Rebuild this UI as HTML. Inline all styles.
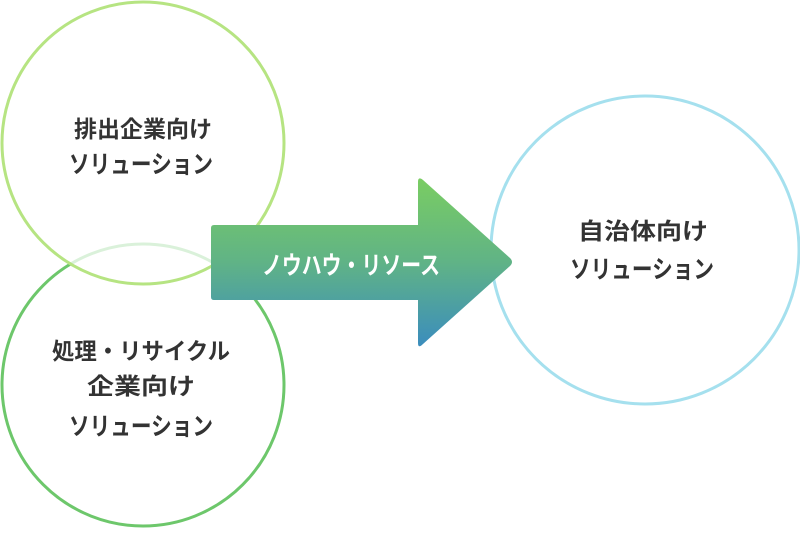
<!DOCTYPE html>
<html><head><meta charset="utf-8"><style>
body{margin:0;background:#fff;}
svg text{font-family:"Liberation Sans","Noto Sans CJK JP",sans-serif;font-weight:bold;font-size:23px;fill:#333;text-anchor:middle;}
svg text.k{font-size:25px;}
</style></head><body>
<svg width="800" height="530" viewBox="0 0 800 530" xmlns="http://www.w3.org/2000/svg">
<defs>
<linearGradient id="g" x1="0" y1="0" x2="0" y2="1">
<stop offset="0" stop-color="#7acd62"/>
<stop offset="0.5" stop-color="#60b386"/>
<stop offset="1" stop-color="#3b8dbd"/>
</linearGradient>
</defs>
<circle cx="143" cy="385" r="141" fill="#fff" stroke="#6dc76b" stroke-width="3"/>
<circle cx="143" cy="143" r="141" fill="#fff" fill-opacity="0.75" stroke="#b6e482" stroke-width="3"/>
<circle cx="645" cy="250" r="154" fill="#fff" stroke="#a5e0ee" stroke-width="3"/>
<path d="M214,225 L418,225 L418,182 Q418,176 423,180 L510,258 Q514,262 510,266 L423,344 Q418,349 418,343 L418,300 L214,300 Q211,300 211,297 L211,228 Q211,225 214,225 Z" fill="url(#g)"/>
<text class="k" x="351" y="274" textLength="178" lengthAdjust="spacingAndGlyphs" style="fill:#fff">ノウハウ・リソース</text>
<text x="143" y="137" textLength="138" lengthAdjust="spacingAndGlyphs">排出企業向け</text>
<text class="k" x="141" y="173" textLength="144" lengthAdjust="spacingAndGlyphs">ソリューション</text>
<text x="141" y="359" textLength="178" lengthAdjust="spacingAndGlyphs">処理・リサイクル</text>
<text x="141" y="394" textLength="108" lengthAdjust="spacingAndGlyphs">企業向け</text>
<text class="k" x="141" y="435" textLength="144" lengthAdjust="spacingAndGlyphs">ソリューション</text>
<text x="643" y="239" textLength="130" lengthAdjust="spacingAndGlyphs">自治体向け</text>
<text class="k" x="642" y="278" textLength="144" lengthAdjust="spacingAndGlyphs">ソリューション</text>
</svg>
</body></html>
